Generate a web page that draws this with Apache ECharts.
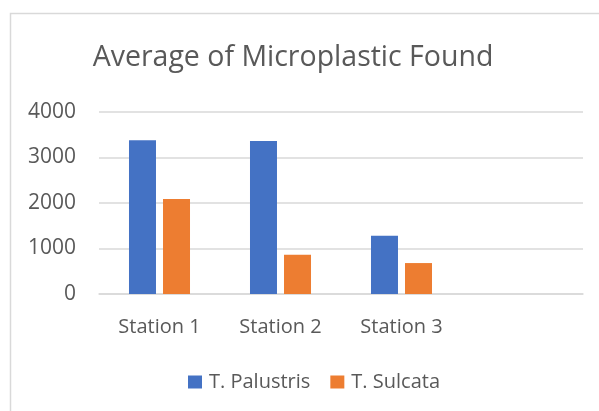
<!DOCTYPE html>
<html>
<head>
<meta charset="utf-8">
<script src="https://cdn.jsdelivr.net/npm/echarts@6/dist/echarts.min.js"></script>
<style>
html,body{margin:0;padding:0;background:#fff;}
#chart{width:599px;height:411px;}
</style>
</head>
<body>
<div id="chart"></div>
<script>
var categories = ['Station 1', 'Station 2', 'Station 3', ''];
var palustris = [3380, 3360, 1280, null];
var sulcata = [2090, 860, 680, null];
var yTicks = [0, 1000, 2000, 3000, 4000];

var chart = echarts.init(document.getElementById('chart'));
var font = 'Open Sans';
chart.setOption({
  animation: false,
  textStyle: { fontFamily: font },
  graphic: [{
    type: 'rect',
    shape: { x: 10.5, y: 13.5, width: 620, height: 420 },
    style: { fill: 'none', stroke: '#d9d9d9', lineWidth: 1.5 },
    silent: true
  }],
  title: {
    text: 'Average of Microplastic Found',
    left: 288,
    top: 38,
    textAlign: 'center',
    textStyle: { fontFamily: font, fontSize: 28.5, fontWeight: 'normal', color: '#595959' }
  },
  legend: {
    left: 183,
    top: 367,
    itemWidth: 14,
    itemHeight: 13,
    itemGap: 20,
    icon: 'rect',
    textStyle: { fontFamily: font, fontSize: 20, color: '#595959', padding: [0, 0, 0, 2] },
    data: ['T. Palustris', 'T. Sulcata']
  },
  grid: { left: 99, right: 16, top: 112, bottom: 117, containLabel: false },
  xAxis: {
    type: 'category',
    data: categories,
    axisLine: { show: true, lineStyle: { color: '#d9d9d9', width: 1.5 } },
    axisTick: { show: false },
    axisLabel: { fontFamily: font, fontSize: 20, color: '#595959', margin: 23 }
  },
  yAxis: {
    type: 'value',
    min: yTicks[0],
    max: yTicks[yTicks.length - 1],
    interval: 1000,
    axisLine: { show: false },
    axisTick: { show: false },
    axisLabel: { fontFamily: font, fontSize: 21, color: '#595959', margin: 23, formatter: function (v) { return String(v); } },
    splitLine: { lineStyle: { color: '#d9d9d9', width: 1.5 } }
  },
  series: [
    { name: 'T. Palustris', type: 'bar', data: palustris, barWidth: 27, barGap: '26%', itemStyle: { color: '#4472C4' } },
    { name: 'T. Sulcata', type: 'bar', data: sulcata, barWidth: 27, barGap: '26%', itemStyle: { color: '#ED7D31' } }
  ]
});
</script>
</body>
</html>
